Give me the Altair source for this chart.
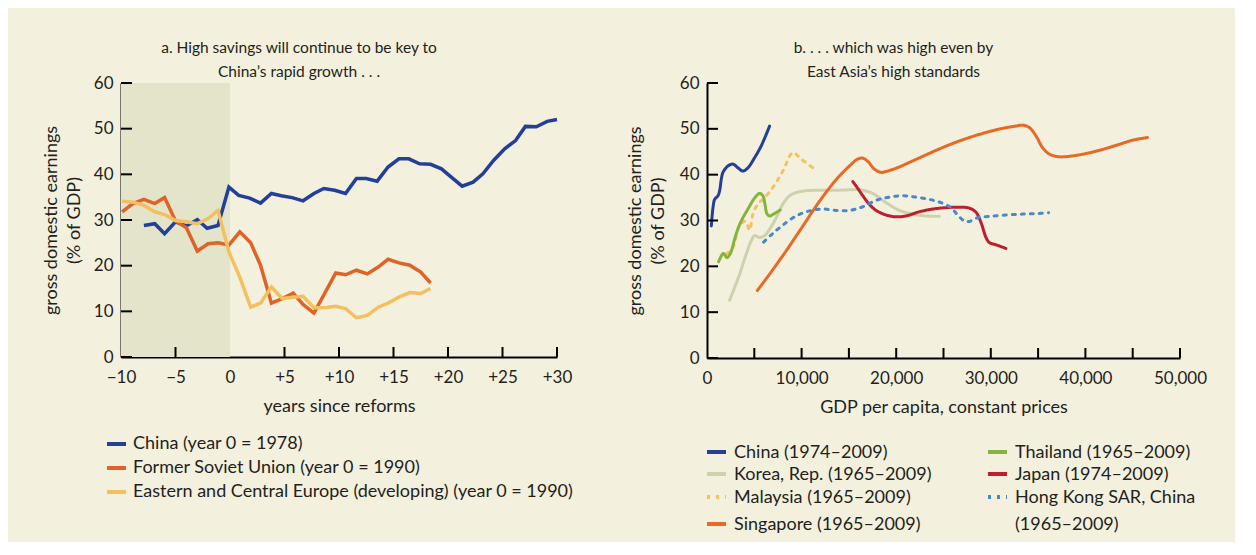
import altair as alt
import pandas as pd

FONT = "Lato"
INK = "#231F20"
BG = "#F3F0DE"
SHADE = "#E3E4CA"

# ---------------- panel a data ----------------
series_a = ["China (year 0 = 1978)",
            "Former Soviet Union (year 0 = 1990)",
            "Eastern and Central Europe (developing) (year 0 = 1990)"]
colors_a = ["#233F98", "#DE6327", "#F3C060"]

china_a_years = [-7.9, -6.9, -6.0, -5.0, -4.0, -3.0, -2.1, -1.1, -0.1, 0.8,
                 1.8, 2.8, 3.8, 4.7, 5.7, 6.7, 7.7, 8.6, 9.6, 10.6,
                 11.6, 12.5, 13.5, 14.5, 15.5, 16.4, 17.4, 18.4, 19.4, 20.3,
                 21.3, 22.3, 23.2, 24.2, 25.2, 26.2, 27.1, 28.1, 29.1, 30.0]
china_a_vals = [28.8, 29.2, 27.0, 29.6, 28.7, 30.1, 28.2, 28.8, 37.2, 35.4,
                34.8, 33.7, 35.8, 35.3, 34.9, 34.2, 35.8, 36.9, 36.5, 35.8,
                39.1, 39.1, 38.5, 41.6, 43.4, 43.4, 42.3, 42.2, 41.2, 39.4,
                37.4, 38.3, 40.1, 43.1, 45.6, 47.4, 50.5, 50.4, 51.6, 52.0]

europe_years = [-9.9, -8.9, -7.9, -6.9, -6.0, -5.0, -4.0, -3.0, -2.0, -1.1,
                -0.1, 0.9, 1.9, 2.8, 3.8, 4.8, 5.8, 6.7, 7.7, 8.7,
                9.7, 10.6, 11.6, 12.6, 13.6, 14.5, 15.5, 16.5, 17.5, 18.4]
fsu_vals = [31.8, 33.6, 34.5, 33.6, 34.9, 29.8, 28.3, 23.2, 24.8, 25.0,
            24.5, 27.4, 25.0, 20.1, 11.8, 12.8, 14.0, 11.5, 9.6, 14.0,
            18.4, 18.0, 19.0, 18.2, 19.7, 21.4, 20.6, 20.1, 18.6, 16.2]
ece_vals = [34.1, 33.9, 33.2, 31.8, 31.2, 29.9, 29.6, 29.2, 30.3, 32.1,
            23.0, 17.5, 10.9, 11.8, 15.3, 12.8, 13.1, 13.3, 10.8, 10.8,
            11.1, 10.6, 8.6, 9.1, 10.9, 11.8, 13.1, 14.1, 13.9, 15.0]

shade_start, shade_end = -10, 0
xa_ticks = [-10, -5, 0, 5, 10, 15, 20, 25, 30]
xa_inner_ticks = [-5, 5, 10, 15, 20, 25, 30]
y_ticks = [0, 10, 20, 30, 40, 50, 60]

# ---------------- panel b data ----------------
series_b = ["China (1974–2009)", "Korea, Rep. (1965–2009)", "Malaysia (1965–2009)",
            "Singapore (1965–2009)", "Thailand (1965–2009)", "Japan (1974–2009)",
            "Hong Kong SAR, China (1965–2009)"]
legend_b_labels = ["China (1974–2009)", "Korea, Rep. (1965–2009)", "Malaysia (1965–2009)",
                   "Singapore (1965–2009)", "Thailand (1965–2009)", "Japan (1974–2009)",
                   "Hong Kong SAR, China\n(1965–2009)"]
colors_b = ["#233F98", "#CDD2AC", "#F5C260", "#E66A26", "#84B43C", "#BE1E2D", "#4A88CB"]
dashes_b = [[1, 0], [1, 0], [3, 6], [1, 0], [1, 0], [1, 0], [3, 6]]

china_b_gdp = [457, 633, 809, 1161, 1337, 1513, 1689, 2217, 2745, 3273, 3800, 4328, 5032, 5736, 6616]
china_b_val = [28.8, 32.8, 34.6, 35.4, 36.5, 39.0, 40.5, 41.9, 42.3, 41.5, 40.8, 41.5, 43.7, 46.3, 50.6]

korea_gdp = [2393, 2921, 3449, 4152, 4680, 5032, 5560, 6088, 6616, 7320, 8023, 8727, 9431,
             10487, 11894, 13654, 15413, 16469, 17525, 18932, 20340, 21747, 23155, 24563]
korea_val = [12.6, 15.4, 18.3, 22.7, 25.6, 26.7, 26.3, 26.7, 28.1, 30.6, 33.6, 35.4, 36.1,
             36.5, 36.6, 36.6, 36.7, 36.6, 35.9, 33.9, 32.2, 31.4, 31.0, 30.9]

malaysia_gdp = [2041, 2745, 3449, 4082, 4504, 4856, 5384, 6088, 6968, 8023, 9079, 9959, 11190]
malaysia_val = [22.7, 24.1, 29.0, 29.8, 27.9, 31.4, 33.6, 35.0, 37.2, 40.8, 44.8, 43.4, 41.5]

singapore_gdp = [5314, 6616, 8375, 10135, 11894, 13654, 15061, 15941, 16469, 16997, 17701,
                 18405, 18932, 19988, 21747, 24211, 25970, 27730, 29489, 31249, 32656,
                 33360, 34064, 34767, 35471, 36175, 37231, 38638, 40046, 41806, 43565,
                 44973, 46556]
singapore_val = [14.7, 18.3, 23.4, 28.8, 34.2, 38.9, 41.9, 43.4, 43.6, 42.9, 41.2,
                 40.5, 40.7, 41.4, 43.0, 45.3, 46.8, 48.1, 49.2, 50.1, 50.6,
                 50.8, 50.3, 48.5, 45.9, 44.5, 43.9, 44.1, 44.6, 45.5, 46.6,
                 47.5, 48.1]

thailand_gdp = [1232, 1724, 2111, 2463, 3026, 3554, 4328, 5032, 5560, 5912, 6123, 6334, 6616, 7038, 7742]
thailand_val = [21.0, 22.8, 21.9, 22.8, 26.7, 29.6, 32.5, 34.9, 35.9, 35.4, 33.6, 31.5, 31.0, 31.4, 32.3]

japan_gdp = [15413, 15941, 16469, 17173, 17877, 18932, 19988, 21044, 22451, 23859, 25267,
             26674, 27730, 28434, 28962, 29489, 29841, 30545, 31601]
japan_val = [38.5, 37.0, 35.4, 33.5, 32.2, 31.2, 30.8, 31.0, 31.9, 32.5, 32.8,
             32.9, 32.7, 31.8, 29.6, 26.3, 25.2, 24.7, 23.9]

hk_gdp = [5982, 6968, 8023, 9431, 10839, 12246, 13654, 15061, 16469, 17877, 19284, 20692,
          22099, 23507, 24739, 25794, 26498, 27202, 27730, 28610, 29841, 31601, 33360,
          34767, 36105]
hk_val = [25.3, 27.2, 29.0, 31.0, 32.1, 32.5, 32.2, 32.2, 33.0, 34.4, 35.1, 35.4,
          35.1, 34.6, 33.9, 32.8, 31.2, 29.9, 29.8, 30.6, 30.9, 31.2, 31.4,
          31.5, 31.7]

xb_ticks = [0, 10000, 20000, 30000, 40000, 50000]
xb_inner_ticks = [5000, 10000, 15000, 20000, 25000, 30000, 35000, 40000, 45000, 50000]

# ---------------- build tables ----------------
def table(name, xs, ys):
    return pd.DataFrame({"series": name, "x": xs, "y": ys, "order": range(len(xs))})

df_a = pd.concat([
    table(series_a[0], china_a_years, china_a_vals),
    table(series_a[1], europe_years, fsu_vals),
    table(series_a[2], europe_years, ece_vals),
])
df_b = pd.concat([
    table(series_b[1], korea_gdp, korea_val),
    table(series_b[2], malaysia_gdp, malaysia_val),
    table(series_b[4], thailand_gdp, thailand_val),
    table(series_b[0], china_b_gdp, china_b_val),
    table(series_b[3], singapore_gdp, singapore_val),
    table(series_b[5], japan_gdp, japan_val),
    table(series_b[6], hk_gdp, hk_val),
])

W1, H1 = 436, 274
W2, H2 = 473, 275
LBL = 17     # tick label size
TXT = 18     # axis title / legend size

xa = alt.Scale(domain=[-10, 30], nice=False, zero=False)
ya = alt.Scale(domain=[0, 60], nice=False)
xb = alt.Scale(domain=[0, 50000], nice=False)
yb = alt.Scale(domain=[0, 60], nice=False)

color_a = alt.Scale(domain=series_a, range=colors_a)
color_b = alt.Scale(domain=series_b, range=colors_b)
dash_b = alt.Scale(domain=series_b, range=dashes_b)

ytitle = ["gross domestic earnings", "(% of GDP)"]

# ---------------- panel a ----------------
shade = alt.Chart(pd.DataFrame({"x": [shade_start], "x2": [shade_end]})).mark_rect(
    color=SHADE).encode(
    x=alt.X("x:Q", scale=xa,
            axis=alt.Axis(values=xa_ticks, title="years since reforms", labelFlush=False,
                          labelExpr="datum.value > 0 ? '+' + datum.value : (datum.value < 0 ? '\u2212' + (-datum.value) : '0')",
                          labelPadding=12, titlePadding=12)),
    x2="x2:Q",
    y=alt.value(0), y2=alt.value(H1))

lines_a = alt.Chart(df_a).mark_line(strokeWidth=3.5).encode(
    x=alt.X("x:Q", scale=xa),
    y=alt.Y("y:Q", scale=ya,
            axis=alt.Axis(values=y_ticks, title=ytitle, titleX=-70, titleY=H1 / 2,
                          titleBaseline="middle", titleLineHeight=23, labelPadding=8)),
    color=alt.Color("series:N", scale=color_a, legend=None),
    order="order:Q")

yt_a = alt.Chart(pd.DataFrame({"v": y_ticks})).mark_rule(color="black", strokeWidth=2).encode(
    y=alt.Y("v:Q", scale=ya), x=alt.value(0), x2=alt.value(11))
xt_a = alt.Chart(pd.DataFrame({"v": xa_inner_ticks})).mark_rule(color="black", strokeWidth=2).encode(
    x=alt.X("v:Q", scale=xa), y=alt.value(H1), y2=alt.value(H1 - 10))

leg_a = pd.DataFrame({"series": series_a, "row": range(len(series_a))})
leg_a["ly"] = 361 + 24 * leg_a["row"]
leg_a_sw = alt.Chart(leg_a).mark_rule(strokeWidth=4).encode(
    x=alt.value(-14), x2=alt.value(5), y=alt.Y("ly:Q", scale=None),
    color=alt.Color("series:N", scale=color_a, legend=None))
leg_a_tx = alt.Chart(leg_a).mark_text(align="left", baseline="middle", font=FONT,
                                      fontSize=TXT, color=INK).encode(
    x=alt.value(12), y=alt.Y("ly:Q", scale=None), text="series:N")

panel_a = alt.layer(shade, lines_a, yt_a, xt_a, leg_a_sw, leg_a_tx).properties(
    width=W1, height=H1,
    title=alt.TitleParams(["a. High savings will continue to be key to", "China’s rapid growth . . ."],
                          anchor="middle", dx=-40, offset=-6, lineHeight=24))

# ---------------- panel b ----------------
lines_b = alt.Chart(df_b).mark_line(strokeWidth=3, interpolate="catmull-rom", strokeCap="round").encode(
    x=alt.X("x:Q", scale=xb,
            axis=alt.Axis(values=xb_ticks, format=",d", title="GDP per capita, constant prices",
                          labelFlush=False, labelPadding=12, titlePadding=12)),
    y=alt.Y("y:Q", scale=yb,
            axis=alt.Axis(values=y_ticks, title=ytitle, titleX=-72, titleY=H2 / 2,
                          titleBaseline="middle", titleLineHeight=23, labelPadding=8)),
    color=alt.Color("series:N", scale=color_b, legend=None),
    strokeDash=alt.StrokeDash("series:N", scale=dash_b, legend=None),
    detail="series:N",
    order="order:Q")

yt_b = alt.Chart(pd.DataFrame({"v": y_ticks})).mark_rule(color="black", strokeWidth=2).encode(
    y=alt.Y("v:Q", scale=yb), x=alt.value(0), x2=alt.value(11))
xt_b = alt.Chart(pd.DataFrame({"v": xb_inner_ticks})).mark_rule(color="black", strokeWidth=2).encode(
    x=alt.X("v:Q", scale=xb), y=alt.value(H2), y2=alt.value(H2 - 10))

# legend layout (pixel offsets below the plot area)
row_offsets = [369, 391, 414, 441]
leg_b = pd.DataFrame({"series": series_b, "label": legend_b_labels,
                      "col": [0, 0, 0, 0, 1, 1, 1], "row": [0, 1, 2, 3, 0, 1, 2]})
leg_b["ly"] = [row_offsets[r] for r in leg_b["row"]]
leg_b["sx"] = leg_b["col"] * 281
leg_b["sx2"] = leg_b["sx"] + 19
leg_b["tx"] = leg_b["sx"] + 27
leg_b["ty"] = leg_b["ly"] + 6
leg_b_sw = alt.Chart(leg_b).mark_rule(strokeWidth=4, strokeCap="butt").encode(
    x=alt.X("sx:Q", scale=None), x2="sx2:Q", y=alt.Y("ly:Q", scale=None),
    color=alt.Color("series:N", scale=color_b, legend=None),
    strokeDash=alt.StrokeDash("series:N", scale=alt.Scale(domain=series_b,
                              range=[[1, 0], [1, 0], [6, 3], [1, 0], [1, 0], [1, 0], [6, 3]]), legend=None))
leg_b_tx = alt.Chart(leg_b).mark_text(align="left", baseline="alphabetic", font=FONT,
                                      fontSize=TXT, color=INK, lineBreak="\n", lineHeight=27).encode(
    x=alt.X("tx:Q", scale=None), y=alt.Y("ty:Q", scale=None), text="label:N")

panel_b = alt.layer(lines_b, yt_b, xt_b, leg_b_sw, leg_b_tx).properties(
    width=W2, height=H2,
    title=alt.TitleParams(["b.  . . . which was high even by", "East Asia’s high standards"],
                          anchor="middle", dx=-50, offset=-6, lineHeight=24))

chart = alt.hconcat(panel_a, panel_b, spacing=52).resolve_scale(
    color="independent", strokeDash="independent", x="independent", y="independent"
).properties(
    padding={"left": 33, "top": 32, "right": 28, "bottom": 8},
    background=BG
).configure_view(stroke=None).configure_axis(
    domainColor="black", domainWidth=2, ticks=False, grid=False,
    labelFont=FONT, labelFontSize=LBL, labelColor=INK,
    titleFont=FONT, titleFontSize=TXT, titleFontWeight="normal", titleColor=INK
).configure_title(font=FONT, fontSize=15.5, fontWeight="normal", color=INK)

chart.save("out.html", embed_options={"renderer": "svg", "actions": False})
